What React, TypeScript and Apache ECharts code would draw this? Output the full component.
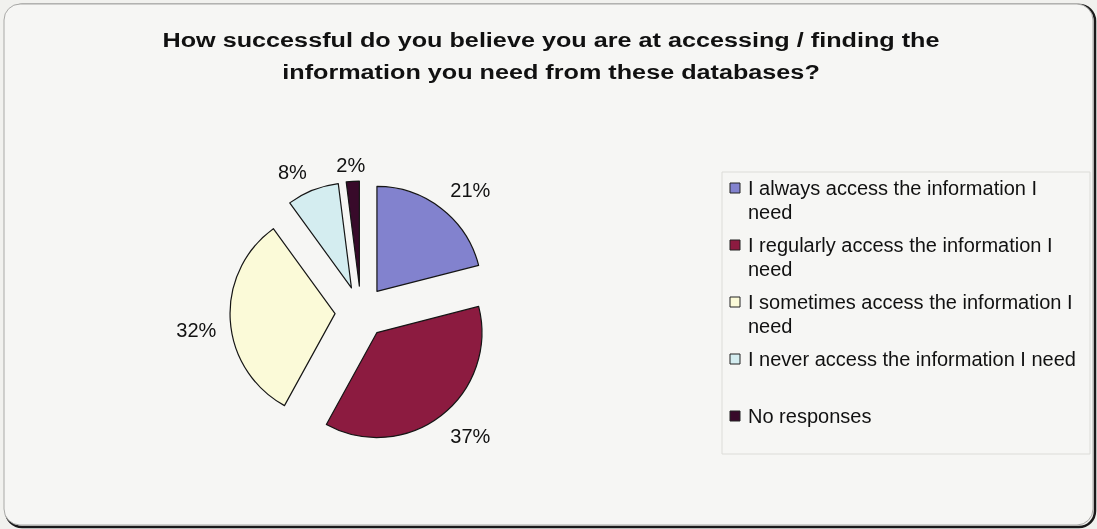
import React, { useEffect, useRef } from "react";
import * as echarts from "echarts";

const titleText =
  "How successful do you believe you are at accessing / finding the\ninformation you need from these databases?";
const categories = [
  "I always access the information I need",
  "I regularly access the information I need",
  "I sometimes access the information I need",
  "I never access the information I need",
  "No responses",
];
const legendLabels = [
  "I always access the information I\nneed",
  "I regularly access the information I\nneed",
  "I sometimes access the information I\nneed",
  "I never access the information I need",
  "No responses",
];
const values = [21, 37, 32, 8, 2];
const colors = ["#8282CE", "#8C1B40", "#FBFAD8", "#D4EDF0", "#380A2A"];
// small nudges of the percentage labels (px), mimicking the original label placement
const labelNudgeX = [10, 10, -3, -9, 0];
const labelNudgeY = [6, -4, 8, 11, 15];

const FONT = "'Liberation Sans', Arial, sans-serif";

export default function App() {
  const ref = useRef<HTMLDivElement>(null);
  useEffect(() => {
    document.body.style.margin = "0";
    document.body.style.background = "#F1F1EE";
    const chart = echarts.init(ref.current!, null, { renderer: "svg" });
    const pieData = categories.map((name, i) => ({
      name,
      value: values[i],
      selected: true,
      itemStyle: { color: colors[i] },
    }));
    const ringData = categories.map((name, i) => ({
      name,
      value: values[i],
      selected: true,
      itemStyle: { color: "rgba(0,0,0,0)", borderWidth: 0 },
    }));
    const legendTop = 188;
    const legendStep = 57;
    const legendGraphics: any[] = [];
    categories.forEach((name, i) => {
      const cy = legendTop + legendStep * i;
      legendGraphics.push({
        type: "rect",
        shape: { x: 730, y: cy - 5, width: 10, height: 10 },
        style: { fill: colors[i], stroke: "#222", lineWidth: 1 },
      });
      legendGraphics.push({
        type: "text",
        x: 748,
        y: cy - 12,
        style: {
          text: legendLabels[i],
          fontFamily: FONT,
          fontSize: 20,
          lineHeight: 24,
          fill: "#111",
          align: "left",
          verticalAlign: "top",
        },
      });
    });
    chart.setOption({
      animation: false,
      backgroundColor: "transparent",
      graphic: [
        {
          type: "rect",
          z: -10,
          shape: { x: 6, y: 5, width: 1089, height: 522, r: 16 },
          style: { fill: "none", stroke: "#1a1a1a", lineWidth: 2.5 },
        },
        {
          type: "rect",
          z: -9,
          shape: { x: 4, y: 4, width: 1089, height: 521, r: 16 },
          style: { fill: "#F6F6F4", stroke: "#A8A8A6", lineWidth: 1 },
        },
        {
          type: "rect",
          z: -8,
          shape: { x: 722, y: 172, width: 368, height: 282 },
          style: { fill: "none", stroke: "#DCDCD8", lineWidth: 1 },
        },
        {
          type: "text",
          x: 551,
          y: 56,
          scaleX: 1.2,
          style: {
            text: titleText,
            fontFamily: FONT,
            fontSize: 21,
            fontWeight: "bold",
            lineHeight: 32,
            fill: "#111",
            align: "center",
            verticalAlign: "middle",
          },
        },
        ...legendGraphics,
      ],
      series: [
        {
          type: "pie",
          center: [361, 312],
          radius: 105,
          startAngle: 90,
          clockwise: true,
          selectedMode: "multiple",
          selectedOffset: 26,
          silent: true,
          itemStyle: { borderColor: "#151515", borderWidth: 1.2 },
          label: { show: false },
          labelLine: { show: false },
          data: pieData,
        },
        {
          type: "pie",
          center: [361, 312],
          radius: [113, 153],
          startAngle: 90,
          clockwise: true,
          selectedMode: "multiple",
          selectedOffset: 26,
          silent: true,
          label: {
            show: true,
            position: "inside",
            formatter: "{c}%",
            fontFamily: FONT,
            fontSize: 20,
            color: "#111",
          },
          labelLine: { show: false },
          labelLayout: (p: any) => ({
            dx: labelNudgeX[p.dataIndex],
            dy: labelNudgeY[p.dataIndex],
          }),
          data: ringData,
        },
      ],
    });
    return () => chart.dispose();
  }, []);
  return (
    <div
      ref={ref}
      style={{ position: "fixed", left: 0, top: 0, width: 1097, height: 529 }}
    />
  );
}
